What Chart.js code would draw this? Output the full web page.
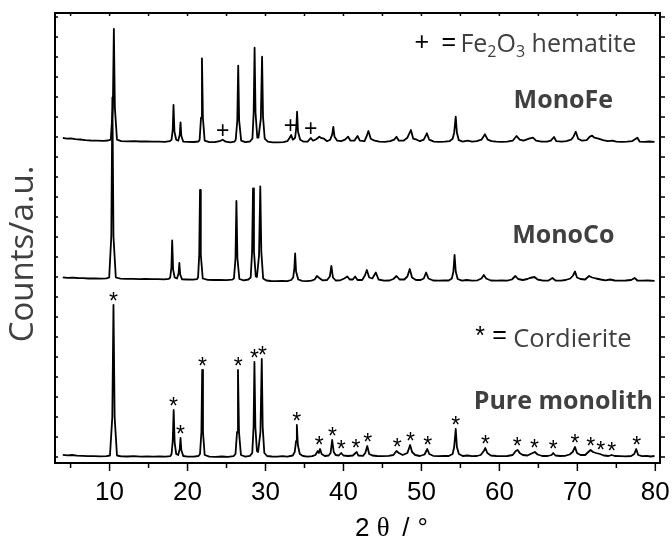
<!DOCTYPE html>
<html lang="en">
<head>
<meta charset="UTF-8">
<title>XRD</title>
<script src="https://cdn.jsdelivr.net/npm/chart.js"></script>
<style>
  body { margin: 0; background: #fff; }
  #wrap { width: 672px; height: 538px; }
</style>
</head>
<body>
<div id="wrap"><canvas id="xrd" width="672" height="538"></canvas></div>
<script>
// 2 theta tick labels
const xTickLabels = [10, 20, 30, 40, 50, 60, 70, 80];

// counts above each pattern's own baseline: [2theta, counts]
const purePattern = [
  [4.0,2.2],[4.6,1.6],[5.2,2.0],[5.8,1.4],[6.5,1.2],[7.2,0.9],[8.0,0.8],[8.8,0.7],[9.6,0.8],
  [10.05,1.5],[10.35,40],[10.5,152],[10.65,40],[10.95,1.5],
  [11.5,0.6],[12.3,0.5],[13.1,0.8],[14.0,0.4],[14.8,0.6],[15.6,0.3],[16.4,0.5],[17.2,0.4],[17.8,0.9],
  [17.95,3],[18.1,16],[18.22,47],[18.35,14],[18.55,3],
  [18.8,2],[19.0,8],[19.1,19],[19.2,7],[19.45,1],
  [20.0,0.4],[20.8,0.3],[21.4,1],
  [21.6,3],[21.78,25],[21.88,87],[21.98,25],[22.2,2],
  [22.8,0.3],[23.6,0.2],[24.4,0.5],[25.2,0.2],[25.9,0.8],
  [26.15,3],[26.35,25],[26.47,87],[26.6,25],[26.85,2],
  [27.4,0.4],[28.0,1.2],
  [28.3,4],[28.47,30],[28.58,95],[28.7,30],[28.9,6],[29.05,5],
  [29.35,25],[29.52,98],[29.64,30],[29.85,4],[30.2,1],
  [30.8,0.5],[31.5,0.3],[32.2,0.8],[32.8,0.4],[33.5,1.5],
  [33.75,5],[33.92,16],[34.02,32],[34.15,12],[34.4,3],[34.8,1],
  [35.4,0.4],[36.0,0.8],[36.4,2],[36.7,6],[36.85,4],[37.0,8],[37.2,3],[37.6,1],[38.1,1.5],
  [38.35,4],[38.55,17],[38.75,5],[39.0,2],[39.4,1.5],[39.7,4],[40.0,1.5],[40.6,1],[41.2,1.5],
  [41.55,4],[41.7,5],[41.9,1.5],[42.5,1.2],[42.8,4],[43.05,11],[43.3,3],[43.7,1.5],[44.3,1],
  [45.0,0.8],[45.8,1.2],[46.4,2],[46.8,6],[47.1,4],[47.6,2],[48.2,4],[48.55,12],[48.8,5],
  [49.2,2],[49.8,1],[50.4,2.5],[50.75,8],[51.0,3],[51.5,1.2],[52.2,0.8],[52.9,1.2],[53.5,1],
  [54.0,3],[54.2,10],[54.4,28],[54.55,10],[54.8,3],[55.3,1],[55.9,1.5],[56.5,0.8],[57.1,1],
  [57.6,2],[58.0,6],[58.2,9],[58.45,4],[58.9,1.5],[59.6,1],[60.3,0.8],[61.0,1],[61.7,2],
  [62.1,6],[62.35,7],[62.6,4],[63.0,2],[63.6,1.5],[64.0,3],[64.55,5],[64.9,2.5],[65.5,1],
  [66.2,1],[66.7,2],[66.9,4],[67.2,1.5],[67.8,1],[68.4,1.2],[69.0,2.5],[69.4,5],[69.7,10],
  [69.95,4],[70.4,2],[71.0,2],[71.4,5],[71.7,7],[72.0,5],[72.4,4],[72.9,3],[73.4,1.5],
  [74.0,1],[74.4,2],[74.8,1],[75.5,0.8],[76.2,0.6],[76.9,1],[77.3,3],[77.55,8],[77.8,2],
  [78.3,0.8],[78.9,1.2],[79.4,0.5],[79.9,1]
];

const coPattern = [
  [4.0,4.2],[4.6,3.6],[5.2,3.9],[5.9,3.5],[6.6,3.3],[7.3,3.0],[8.1,3.1],[8.9,2.9],[9.6,3.1],
  [9.95,4],[10.22,45],[10.36,184],[10.5,45],[10.8,4],
  [11.4,2.8],[12.2,2.6],[13.0,2.7],[13.8,2.4],[14.6,2.6],[15.4,2.3],[16.2,2.4],[17.0,2.2],[17.6,2.6],
  [17.78,4],[17.93,14],[18.03,41],[18.15,12],[18.35,4],
  [18.65,3],[18.85,8],[18.95,18.5],[19.06,7],[19.3,2.2],
  [19.9,2],[20.7,1.8],[21.2,2.3],
  [21.35,4],[21.5,27],[21.6,91.5],[21.7,27],[21.95,3],
  [22.6,1.6],[23.4,1.5],[24.2,1.6],[25.0,1.3],[25.7,1.8],
  [25.95,3],[26.15,23],[26.27,80.5],[26.4,23],[26.65,2.5],
  [27.2,1.2],[27.8,2],
  [28.1,4],[28.28,30],[28.4,93],[28.52,30],[28.75,5],[28.9,4.5],
  [29.17,26],[29.33,95],[29.46,30],[29.7,3],[30.1,1],
  [30.7,0.5],[31.4,0.4],[32.1,0.6],[32.8,0.3],[33.3,1.5],
  [33.55,4],[33.7,13],[33.8,28],[33.92,10],[34.2,2],[34.7,0.6],
  [35.3,0.4],[35.9,0.8],[36.3,2],[36.6,5.5],[36.9,3.5],[37.3,1.2],[37.9,1.5],
  [38.25,5],[38.45,15.5],[38.65,4],[39.0,1],[39.6,1.2],[40.1,3],[40.5,5],[40.8,2],[41.2,2],
  [41.5,5],[41.8,1.5],[42.4,1.5],[42.75,6],[43.0,11.5],[43.3,4],[43.7,3],[44.15,9],[44.5,2],
  [45.2,0.8],[45.9,1],[46.4,2.5],[46.8,5.5],[47.2,2],[47.8,2],[48.2,5],[48.5,12.5],[48.8,4],
  [49.3,1.5],[49.9,1.5],[50.3,3],[50.6,9],[50.9,3],[51.5,1],[52.2,0.8],[52.9,1.2],[53.5,1],
  [53.9,3],[54.1,10],[54.25,26.5],[54.4,10],[54.65,2.5],[55.2,0.8],[55.8,1.5],[56.5,0.8],[57.2,1.2],
  [57.7,3],[58.0,6.5],[58.3,3],[58.9,1],[59.6,0.8],[60.3,1],[61.0,0.8],[61.6,2],[62.05,5.5],
  [62.4,2.5],[63.0,1.5],[63.6,2.5],[63.9,3.5],[64.5,4.5],[64.9,2],[65.6,0.8],[66.3,1],[66.8,3.5],
  [67.2,1],[67.9,0.8],[68.5,1.5],[69.1,3],[69.45,6],[69.7,10],[69.95,4],[70.4,2.5],[71.0,2],
  [71.5,5.5],[71.9,4],[72.4,3],[73.0,2],[73.6,1.2],[74.2,2],[74.8,1],[75.5,0.8],[76.2,1],
  [76.9,1.5],[77.35,3.5],[77.7,1],[78.3,0.8],[79.0,1],[79.9,0.6]
];

const fePattern = [
  [4.0,4.8],[4.5,4.0],[5.0,4.4],[5.6,3.6],[6.2,3.2],[6.9,2.6],[7.6,2.2],[8.4,2.0],[9.2,1.8],[9.8,2.2],
  [10.15,3],[10.42,35],[10.55,113.7],[10.68,35],[10.95,3],
  [11.5,1.5],[12.3,1.4],[13.1,1.6],[13.9,1.2],[14.7,1.3],[15.5,1.0],[16.3,1.1],[17.1,0.9],[17.7,1.5],
  [17.95,3],[18.1,13],[18.2,37.7],[18.32,11],[18.55,3],
  [18.8,2],[19.0,8],[19.1,20.4],[19.2,7],[19.45,1],
  [20.0,0.8],[20.8,0.7],[21.4,1.2],
  [21.55,3],[21.73,25],[21.85,84.4],[21.97,25],[22.2,2],
  [22.8,0.6],[23.5,0.5],[24.1,1.5],[24.5,3],[24.9,1],[25.5,0.4],[26.0,1],
  [26.18,3],[26.38,22],[26.5,77],[26.62,22],[26.88,2],
  [27.4,0.5],[28.0,1.2],
  [28.32,4],[28.48,30],[28.6,95],[28.72,30],[28.95,5],[29.1,5],
  [29.4,24],[29.56,86],[29.68,26],[29.9,4],[30.3,1],
  [30.9,0.4],[31.6,0.3],[32.3,0.5],[32.8,1.5],[33.1,5],[33.3,7.7],[33.5,3],
  [33.8,5],[33.95,15],[34.05,31],[34.17,11],[34.45,3],[34.9,1],
  [35.4,1],[35.8,4.7],[36.1,2],[36.5,3.5],[36.9,6],[37.2,4.5],[37.5,4],[37.9,1.5],
  [38.3,3],[38.55,8],[38.7,15.7],[38.85,6],[39.2,2],[39.7,1.5],[40.2,3],[40.6,6],[40.9,2],
  [41.4,2],[41.8,6.7],[42.1,2],[42.7,1.5],[42.95,6],[43.2,11.7],[43.5,4],[44.0,2],[44.6,1],
  [45.3,0.8],[46.0,1.5],[46.5,3],[46.8,6],[47.1,2],[47.7,2],[48.2,5],[48.65,12.7],[48.95,4],
  [49.4,3],[49.8,1.5],[50.3,3],[50.7,9.4],[51.0,3],[51.6,1],[52.3,0.8],[53.0,1],[53.6,1.5],
  [54.0,4],[54.2,10],[54.4,26],[54.55,10],[54.8,2.5],[55.3,1],[55.9,2],[56.5,1],[57.1,1.5],
  [57.7,3],[58.15,8.4],[58.5,3],[59.0,1.5],[59.6,1],[60.3,0.8],[61.0,1],[61.7,2],[62.2,6.7],
  [62.6,3],[63.1,2],[63.8,4],[64.3,5],[64.7,2],[65.4,1],[66.1,1],[66.6,2],[67.0,5.7],
  [67.3,1.5],[68.0,1],[68.6,1.5],[69.2,3],[69.5,6],[69.8,11],[70.1,4],[70.6,2],[71.2,2.5],
  [71.6,6],[71.9,7],[72.2,5],[72.7,4],[73.3,2.5],[73.9,1.5],[74.5,2],[75.0,1],[75.7,0.8],
  [76.4,1],[77.0,1.5],[77.7,5],[78.0,1],[78.6,0.8],[79.2,1.2],[79.9,0.8]
];

// vertical stacking of the three patterns (pure, Co, Fe)
const stackShift = [0, 175.5, 314.3];

// reflections marked in the figure
const cordieritePeaks = [10.5, 18.2, 19.1, 21.9, 26.5, 28.6, 29.6, 34.0, 36.9, 38.6, 39.7, 41.6,
  43.1, 46.9, 48.6, 50.8, 54.4, 58.2, 62.3, 64.5, 66.9, 69.7, 71.7, 73.0, 74.4, 77.6];
const hematitePeaks = [24.5, 33.2, 35.8];

const sans = "'Liberation Sans', Arial, sans-serif";
const serif = "'Liberation Serif', 'Times New Roman', serif";
const open = "'Open Sans', sans-serif";
const grey = '#404040';

function toPoints(pattern, shift) {
  return pattern.map(p => ({ x: p[0], y: p[1] + shift }));
}

function topNear(chart, dsIndex, theta) {
  let m = -Infinity;
  chart.data.datasets[dsIndex].data.forEach(p => {
    if (Math.abs(p.x - theta) <= 0.35 && p.y > m) m = p.y;
  });
  return chart.scales.y.getPixelForValue(m);
}

const decor = {
  id: 'decor',
  afterDatasetsDraw(chart) {
    const ctx = chart.ctx;
    const a = chart.chartArea;
    const x = chart.scales.x, y = chart.scales.y;
    ctx.save();

    function seg(x1, y1, x2, y2) {
      ctx.beginPath(); ctx.moveTo(x1, y1); ctx.lineTo(x2, y2); ctx.stroke();
    }

    // frame and tick marks
    ctx.strokeStyle = '#000';
    ctx.lineWidth = 2;
    ctx.strokeRect(a.left, a.top, a.right - a.left, a.bottom - a.top);
    ctx.lineWidth = 1.5;
    for (let v = 5; v <= 80; v += 5) {
      const px = x.getPixelForValue(v);
      seg(px, a.bottom, px, a.bottom + (v % 10 === 0 ? 8 : 5));
      seg(px, a.top, px, a.top + 3);
    }
    for (let v = 0; v <= 440; v += 20) {
      const py = y.getPixelForValue(v);
      seg(a.left, py, a.left + 3, py);
      seg(a.right, py, a.right + 5, py);
    }

    // peak markers
    ctx.fillStyle = '#000';
    ctx.textAlign = 'center';
    ctx.textBaseline = 'alphabetic';
    ctx.font = '23px ' + sans;
    cordieritePeaks.forEach(t => {
      ctx.fillText('*', x.getPixelForValue(t), topNear(chart, 0, t) + 4);
    });
    hematitePeaks.forEach(t => {
      ctx.fillText('+', x.getPixelForValue(t), topNear(chart, 2, t) - 2);
    });

    // legend lines
    ctx.textAlign = 'left';
    let cx = x.getPixelForValue(49.1);
    let by = y.getPixelForValue(405.5);
    ctx.font = '25px ' + sans;
    ctx.fillStyle = '#000';
    ctx.fillText('+', cx, by - 2);
    ctx.fillText('=', cx + 27, by - 2);
    cx += 46;
    ctx.fillStyle = grey;
    ctx.font = '25px ' + open;
    ctx.fillText('Fe', cx, by); cx += ctx.measureText('Fe').width;
    ctx.font = '16px ' + open;
    ctx.fillText('2', cx, by + 5); cx += ctx.measureText('2').width;
    ctx.font = '25px ' + open;
    ctx.fillText('O', cx, by); cx += ctx.measureText('O').width;
    ctx.font = '16px ' + open;
    ctx.fillText('3', cx, by + 5); cx += ctx.measureText('3').width;
    ctx.font = '25px ' + open;
    ctx.fillText(' hematite', cx, by);

    cx = x.getPixelForValue(56.9);
    by = y.getPixelForValue(109.7);
    ctx.font = '25px ' + sans;
    ctx.fillStyle = '#000';
    ctx.fillText('*', cx, by - 3);
    ctx.fillText('=', cx + 17, by - 4);
    ctx.fillStyle = grey;
    ctx.font = '25.5px ' + open;
    ctx.fillText('Cordierite', cx + 38, by);

    // pattern names
    ctx.textAlign = 'center';
    ctx.font = 'bold 25px ' + open;
    ctx.fillText('MonoFe', x.getPixelForValue(68.2), y.getPixelForValue(348.7));
    ctx.fillText('MonoCo', x.getPixelForValue(68.2), y.getPixelForValue(214.3));
    ctx.fillText('Pure monolith', x.getPixelForValue(68.2), y.getPixelForValue(48));

    // x title, 2 theta / degree
    const tx = x.getPixelForValue(46.2);
    ctx.fillStyle = '#000';
    ctx.font = '26px ' + sans;
    ctx.fillText('2', tx - 29.5, 536);
    ctx.fillText('/', tx + 14, 536);
    ctx.fillText('\u00b0', tx + 31, 536);
    ctx.font = '27px ' + serif;
    ctx.fillText('\u03b8', tx - 8.5, 536);

    // y title
    ctx.translate(24, 254);
    ctx.rotate(-Math.PI / 2);
    ctx.textBaseline = 'middle';
    ctx.font = '33px ' + open;
    ctx.fillStyle = grey;
    ctx.fillText('Counts/a.u.', 0, 0);
    ctx.restore();
  }
};

new Chart(document.getElementById('xrd'), {
  type: 'line',
  data: {
    datasets: [
      { label: 'Pure monolith', data: toPoints(purePattern, stackShift[0]) },
      { label: 'MonoCo', data: toPoints(coPattern, stackShift[1]) },
      { label: 'MonoFe', data: toPoints(fePattern, stackShift[2]) }
    ]
  },
  options: {
    responsive: false,
    animation: false,
    layout: { padding: { left: 55, top: 13, right: 12, bottom: 0 } },
    elements: {
      point: { radius: 0 },
      line: { borderColor: '#000', borderWidth: 1.8, tension: 0, borderJoinStyle: 'round' }
    },
    plugins: { legend: { display: false }, tooltip: { enabled: false } },
    scales: {
      x: {
        type: 'linear',
        min: 3,
        max: 80.6,
        grid: { display: false, drawTicks: false },
        border: { display: false },
        afterBuildTicks: s => { s.ticks = xTickLabels.map(v => ({ value: v })); },
        afterFit: s => { s.height = 75; s.paddingLeft = 0; s.paddingRight = 0; },
        ticks: { padding: 14, color: '#000', font: { family: sans, size: 26 } }
      },
      y: {
        min: -6,
        max: 444,
        display: false
      }
    }
  },
  plugins: [decor]
});
</script>
</body>
</html>
